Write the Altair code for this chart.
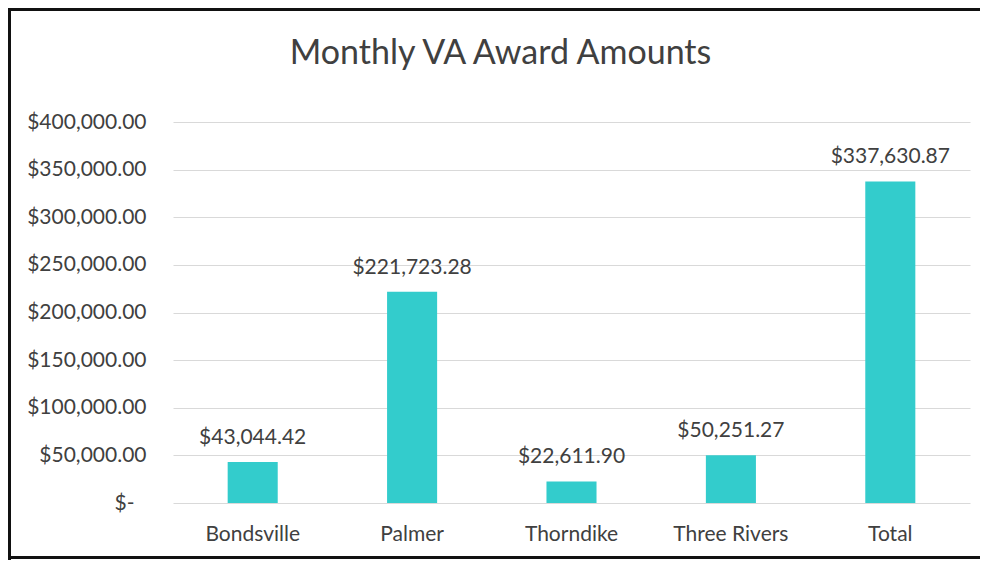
import altair as alt
import pandas as pd

categories = ["Bondsville", "Palmer", "Thorndike", "Three Rivers", "Total"]
amounts = [43044.42, 221723.28, 22611.90, 50251.27, 337630.87]
y_ticks = [0, 50000, 100000, 150000, 200000, 250000, 300000, 350000, 400000]

df = pd.DataFrame({"Location": categories, "Amount": amounts})

FONT = "Lato"
GREY = "#404040"
PAD_L, PAD_T, PLOT_W, PLOT_H, PAD_R, PAD_B = 165, 114, 797, 381, 10, 57
TOTAL_W = PAD_L + PLOT_W + PAD_R
TOTAL_H = PAD_T + PLOT_H + PAD_B

x_enc = alt.X(
    "Location:N",
    sort=categories,
    title=None,
    scale=alt.Scale(paddingInner=0.686, paddingOuter=0.343),
    axis=alt.Axis(
        labelAngle=0,
        labelFont=FONT,
        labelFontSize=21,
        labelColor=GREY,
        labelBaseline="alphabetic",
        labelPadding=37,
        ticks=False,
        tickSize=0,
        domain=False,
        grid=False,
    ),
)
y_enc = alt.Y(
    "Amount:Q",
    title=None,
    scale=alt.Scale(domain=[0, 400000], nice=False),
    axis=alt.Axis(
        values=y_ticks,
        labelExpr="datum.value == 0 ? '$-' : format(datum.value, '$,.2f')",
        labelFont=FONT,
        labelFontSize=21,
        labelColor=GREY,
        labelPadding={"condition": {"test": "datum.value == 0", "value": 39}, "value": 27},
        ticks=False,
        tickSize=0,
        domain=False,
        grid=True,
        gridColor="#D9D9D9",
        gridWidth=1,
    ),
)

bars = alt.Chart(df).mark_bar(color="#33CCCC").encode(x=x_enc, y=y_enc)

labels = alt.Chart(df).mark_text(
    baseline="alphabetic", dy=-18, font=FONT, fontSize=21, color=GREY
).encode(
    x=alt.X("Location:N", sort=categories),
    y="Amount:Q",
    text=alt.Text("Amount:Q", format="$,.2f"),
)

# outer frame of the chart (decoration)
frame_left = alt.Chart(df).mark_rule(color="#111111", strokeWidth=3).encode(
    x=alt.value(-PAD_L + 1.5), y=alt.value(-PAD_T), y2=alt.value(TOTAL_H - PAD_T)
)
frame_top = alt.Chart(df).mark_rule(color="#111111", strokeWidth=3).encode(
    x=alt.value(-PAD_L), x2=alt.value(TOTAL_W - PAD_L), y=alt.value(-PAD_T + 1.5)
)
frame_bottom = alt.Chart(df).mark_rule(color="#111111", strokeWidth=3).encode(
    x=alt.value(-PAD_L), x2=alt.value(TOTAL_W - PAD_L), y=alt.value(TOTAL_H - PAD_T - 2.5)
)

chart = (
    alt.layer(bars, labels, frame_left, frame_top, frame_bottom)
    .properties(
        width=PLOT_W,
        height=PLOT_H,
        background="white",
        autosize=alt.AutoSizeParams(type="none"),
        padding={"left": PAD_L, "top": PAD_T, "right": PAD_R, "bottom": PAD_B},
        title=alt.TitleParams(
            "Monthly VA Award Amounts",
            font=FONT,
            fontSize=34,
            fontWeight="normal",
            color=GREY,
            anchor="middle",
            baseline="alphabetic",
            offset=4,
            dx=-71,
            dy=95,
        ),
    )
    .configure_view(strokeWidth=0, stroke="transparent")
)

chart.save("out.html", embed_options={"renderer": "svg", "actions": False})
